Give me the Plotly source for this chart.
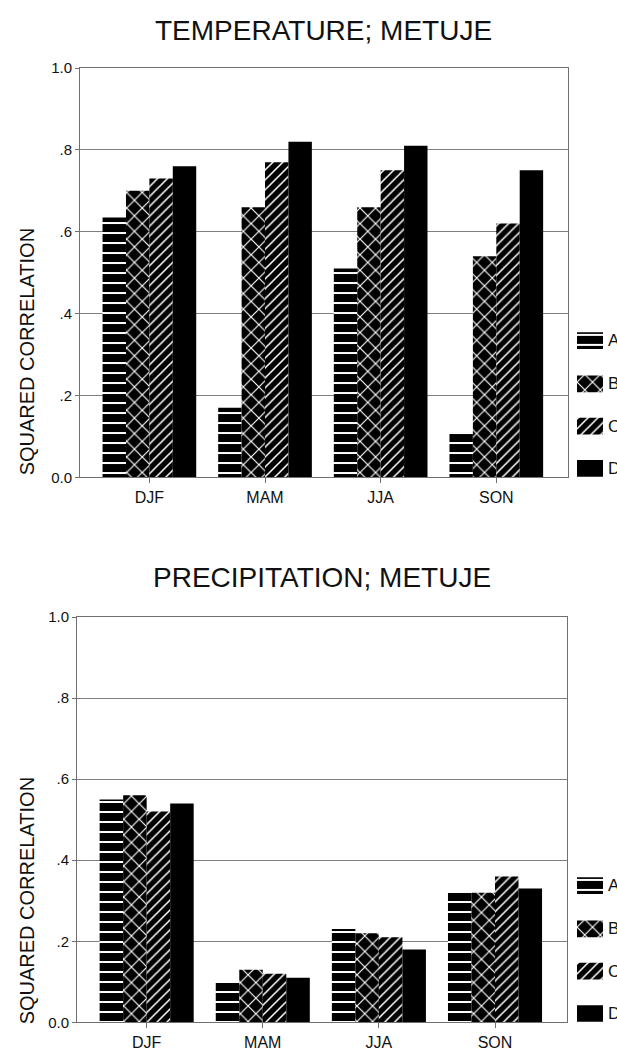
import plotly.graph_objects as go

W, H = 617, 1052

seasons = ["DJF", "MAM", "JJA", "SON"]
series = ["A", "B", "C", "D"]

# squared correlation per season, one list per series
temp_A = [0.635, 0.17, 0.51, 0.11]
temp_B = [0.70, 0.66, 0.66, 0.54]
temp_C = [0.73, 0.77, 0.75, 0.62]
temp_D = [0.76, 0.82, 0.81, 0.75]

prec_A = [0.55, 0.10, 0.23, 0.32]
prec_B = [0.56, 0.13, 0.22, 0.32]
prec_C = [0.52, 0.12, 0.21, 0.36]
prec_D = [0.54, 0.11, 0.18, 0.33]

y_ticks = [0, 0.2, 0.4, 0.6, 0.8, 1.0]
y_ticktext = ["0.0", ".2", ".4", ".6", ".8", "1.0"]

FONT = "Liberation Sans, Arial, sans-serif"
INK = "#111111"
LINE = "#707070"

patterns = {
    "A": dict(shape="-", bgcolor="black", fgcolor="white", size=10, solidity=0.2, fillmode="replace"),
    "B": dict(shape="x", bgcolor="black", fgcolor="white", size=11, solidity=0.2, fillmode="replace"),
    "C": dict(shape="/", bgcolor="black", fgcolor="white", size=7, solidity=0.22, fillmode="replace"),
    "D": dict(shape="", bgcolor="black", fgcolor="black", size=8, solidity=1, fillmode="replace"),
}


def px_x(p):
    return p / W


def px_y(p):
    return 1 - p / H


fig = go.Figure()

panels = [
    dict(title="TEMPERATURE; METUJE", data=[temp_A, temp_B, temp_C, temp_D],
         xa="x", ya="y", left=80, right=568, top=60, bottom=476, title_y=22, label_y=349),
    dict(title="PRECIPITATION; METUJE", data=[prec_A, prec_B, prec_C, prec_D],
         xa="x2", ya="y2", left=77, right=567, top=618, bottom=1030, title_y=578, label_y=907),
]

legend_offsets = [-139, -95, -52, -9]

for i, p in enumerate(panels):
    for name, vals in zip(series, p["data"]):
        fig.add_trace(go.Bar(
            x=seasons, y=vals, name=name, xaxis=p["xa"], yaxis=p["ya"],
            marker=dict(color="black", line=dict(width=0), pattern=patterns[name]),
            showlegend=False, hoverinfo="skip",
        ))

    n = "" if i == 0 else str(i + 1)
    xa_key = "xaxis" + n
    ya_key = "yaxis" + n
    fig.update_layout({
        xa_key: dict(
            domain=[px_x(p["left"]), px_x(p["right"])], anchor=p["ya"],
            type="category", range=[-0.6, 3.62],
            showline=True, mirror=True, linecolor=LINE, linewidth=1,
            ticks="outside", ticklen=5, tickcolor=LINE,
            tickfont=dict(family=FONT, size=16, color=INK),
            showgrid=False, zeroline=False,
        ),
        ya_key: dict(
            domain=[px_y(p["bottom"]), px_y(p["top"])], anchor=p["xa"],
            range=[0, 1], tickvals=y_ticks, ticktext=y_ticktext,
            showline=True, mirror=True, linecolor=LINE, linewidth=1,
            ticks="outside", ticklen=4, tickcolor=LINE,
            tickfont=dict(family=FONT, size=15, color=INK),
            showgrid=True, gridcolor="#7f7f7f", gridwidth=1, zeroline=False,
        ),
    })

    fig.add_annotation(
        text=p["title"], xref="paper", yref="paper",
        x=px_x((p["left"] + p["right"]) / 2), y=px_y(p["title_y"]),
        xanchor="center", yanchor="middle", showarrow=False,
        font=dict(family=FONT, size=28, color=INK),
    )
    fig.add_annotation(
        text="SQUARED CORRELATION", xref="paper", yref="paper",
        x=px_x(27), y=px_y(p["label_y"]), textangle=-90,
        xanchor="center", yanchor="middle", showarrow=False,
        font=dict(family=FONT, size=20, color=INK),
    )

    # legend swatches drawn as patterned bars on a hidden axis pair
    lx = "x" + str(i + 3)
    ly = "y" + str(i + 3)
    lo, hi = p["bottom"] + 10, p["bottom"] - 160
    for name, off in zip(series, legend_offsets):
        fig.add_trace(go.Bar(
            x=[1], y=[p["bottom"] + off], base=0, width=17, orientation="h",
            xaxis=lx, yaxis=ly, showlegend=False, hoverinfo="skip",
            marker=dict(color="black", line=dict(width=0), pattern=patterns[name]),
        ))
        fig.add_annotation(
            text=name, xref="paper", yref="paper",
            x=px_x(606), y=px_y(p["bottom"] + off),
            xanchor="left", yanchor="middle", showarrow=False,
            font=dict(family=FONT, size=17, color=INK),
        )
    fig.update_layout({
        "xaxis" + str(i + 3): dict(domain=[px_x(577), px_x(603)], range=[0, 1],
                                   anchor=ly, visible=False, fixedrange=True),
        "yaxis" + str(i + 3): dict(domain=[px_y(lo), px_y(hi)], range=[lo, hi],
                                   anchor=lx, visible=False, fixedrange=True),
    })

fig.update_layout(
    width=W, height=H,
    margin=dict(l=0, r=0, t=0, b=0),
    paper_bgcolor="white", plot_bgcolor="white",
    barmode="group", bargap=0.19, bargroupgap=0,
    showlegend=False,
    font=dict(family=FONT, color=INK),
)

fig.write_html("out.html", config={"displayModeBar": False})
